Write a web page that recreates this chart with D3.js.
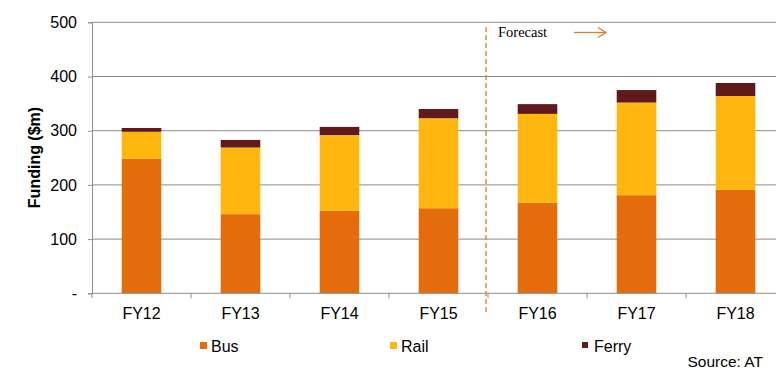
<!DOCTYPE html>
<html>
<head>
<meta charset="utf-8">
<script src="https://cdn.jsdelivr.net/npm/d3@7"></script>
<style>
  html, body { margin: 0; padding: 0; background: #fff; }
  svg { display: block; font-family: "Liberation Sans", Arial, sans-serif; }
</style>
</head>
<body>
<svg id="chart" width="776" height="368"></svg>
<script>
// Funding by mode, $m
const years = ["FY12", "FY13", "FY14", "FY15", "FY16", "FY17", "FY18"];
const bus   = [248, 146, 152, 157, 167, 181, 191];
const rail  = [50, 123, 140, 166, 164, 171, 173];
const ferry = [7, 14, 15, 17, 18, 23, 24];
const seriesNames = ["Bus", "Rail", "Ferry"];
const yTicks = [0, 100, 200, 300, 400, 500];
const forecastFrom = "FY16";

const colors = { Bus: "#E46C0A", Rail: "#FFB70F", Ferry: "#601A1C" };

const svg = d3.select("#chart");
const W = 776, H = 368;
const plot = { left: 92, right: 785, top: 22.3, bottom: 293.3 };

const rows = years.map((y, i) => ({ year: y, Bus: bus[i], Rail: rail[i], Ferry: ferry[i] }));
const stacked = d3.stack().keys(seriesNames)(rows);

const x = d3.scaleBand().domain(years).range([plot.left, plot.right]).padding(0);
const y = d3.scaleLinear().domain([0, 500]).range([plot.bottom, plot.top]);
const barW = x.bandwidth() * 0.4;

// horizontal gridlines
svg.append("g")
  .selectAll("line")
  .data(yTicks.filter(d => d > 0))
  .join("line")
  .attr("x1", plot.left).attr("x2", W)
  .attr("y1", d => y(d)).attr("y2", d => y(d))
  .attr("stroke", "#8c8c8c").attr("stroke-width", 1);

// stacked bars
svg.append("g")
  .selectAll("g")
  .data(stacked)
  .join("g")
  .attr("fill", d => colors[d.key])
  .selectAll("rect")
  .data(d => d)
  .join("rect")
  .attr("x", d => x(d.data.year) + (x.bandwidth() - barW) / 2)
  .attr("width", barW)
  .attr("y", d => y(d[1]))
  .attr("height", d => y(d[0]) - y(d[1]));

// y axis
const yAxis = d3.axisLeft(y)
  .tickValues(yTicks)
  .tickSize(4)
  .tickPadding(11)
  .tickFormat(d => d === 0 ? "-" : d);
const gy = svg.append("g").attr("transform", `translate(${plot.left},0)`).call(yAxis);
gy.select(".domain").attr("stroke", "#8c8c8c");
gy.selectAll(".tick line").attr("stroke", "#8c8c8c");
gy.selectAll("text").attr("font-size", 16).attr("fill", "#000");

// x axis baseline with ticks at category boundaries
svg.append("line")
  .attr("x1", plot.left).attr("x2", W)
  .attr("y1", y(0)).attr("y2", y(0))
  .attr("stroke", "#8c8c8c");
svg.append("g")
  .selectAll("line")
  .data(years)
  .join("line")
  .attr("x1", d => x(d)).attr("x2", d => x(d))
  .attr("y1", y(0)).attr("y2", y(0) + 5)
  .attr("stroke", "#8c8c8c");
svg.append("g")
  .selectAll("text")
  .data(years)
  .join("text")
  .attr("x", d => x(d) + x.bandwidth() / 2)
  .attr("y", 319)
  .attr("text-anchor", "middle")
  .attr("font-size", 16)
  .attr("fill", "#000")
  .text(d => d);

// y axis title
svg.append("text")
  .attr("transform", `translate(40,157.5) rotate(-90)`)
  .attr("text-anchor", "middle")
  .attr("font-size", 16)
  .attr("font-weight", "bold")
  .attr("fill", "#000")
  .text("Funding ($m)");

// forecast divider
const fx = x(forecastFrom) - 2;
svg.append("line")
  .attr("x1", fx).attr("x2", fx)
  .attr("y1", 27).attr("y2", 312)
  .attr("stroke", "#E07A2C")
  .attr("stroke-width", 1.3)
  .attr("stroke-dasharray", "5,3");
svg.append("text")
  .attr("x", fx + 12).attr("y", 37)
  .attr("font-family", "'Liberation Serif', 'DejaVu Serif', serif")
  .attr("font-size", 14.5)
  .attr("fill", "#000")
  .text("Forecast");
const ax0 = fx + 88, ax1 = fx + 120, ay = 32.5;
svg.append("line")
  .attr("x1", ax0).attr("x2", ax1)
  .attr("y1", ay).attr("y2", ay)
  .attr("stroke", "#E07A2C").attr("stroke-width", 1.3);
svg.append("path")
  .attr("d", `M${ax1 - 8},${ay - 5} L${ax1},${ay} L${ax1 - 8},${ay + 5}`)
  .attr("fill", "none")
  .attr("stroke", "#E07A2C").attr("stroke-width", 1.3);

// legend
const legendX = { Bus: 200, Rail: 390, Ferry: 582 };
const lg = svg.append("g")
  .selectAll("g")
  .data(seriesNames)
  .join("g")
  .attr("transform", d => `translate(${legendX[d]},342)`);
lg.append("rect")
  .attr("width", d => d === "Ferry" ? 6 : 7)
  .attr("height", d => d === "Ferry" ? 6 : 7)
  .attr("fill", d => colors[d]);
lg.append("text")
  .attr("x", d => d === "Ferry" ? 12 : 11)
  .attr("y", 10)
  .attr("font-size", 16)
  .attr("fill", "#000")
  .text(d => d);

// source note
svg.append("text")
  .attr("x", 763).attr("y", 366.5)
  .attr("text-anchor", "end")
  .attr("font-size", 15.5)
  .attr("fill", "#000")
  .text("Source: AT");
</script>
</body>
</html>
